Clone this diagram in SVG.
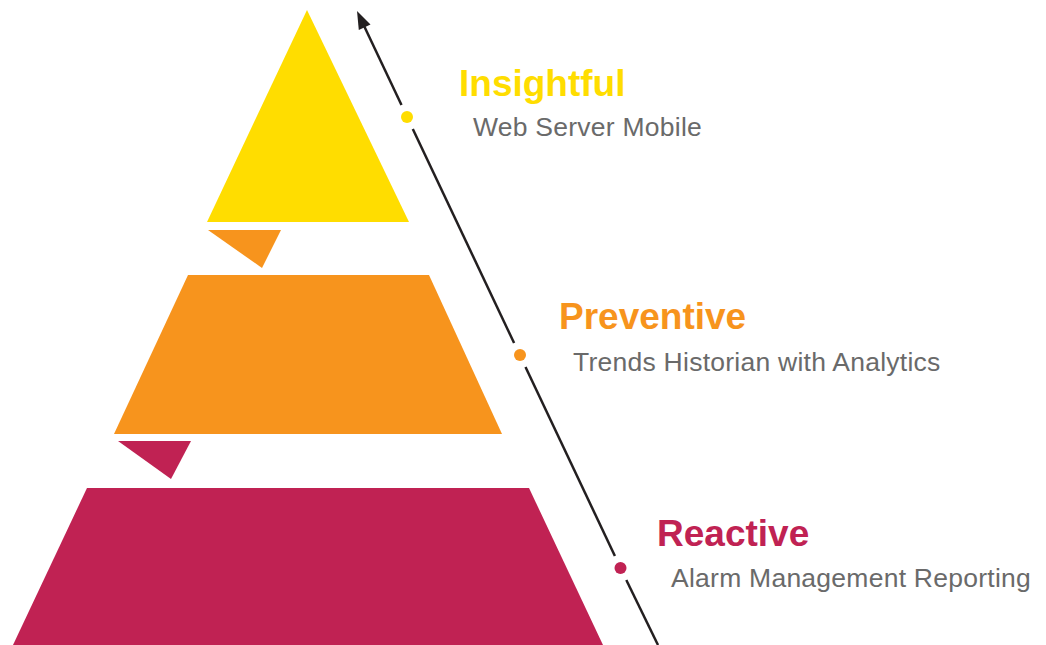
<svg xmlns="http://www.w3.org/2000/svg" width="1046" height="645" viewBox="0 0 1046 645">
<style>
.y{fill:#FFDD00}.o{fill:#F7941D}.c{fill:#C02253}
.ln{stroke:#231F20;stroke-width:2.5;fill:none}
.h{font-family:"Liberation Sans",Arial,sans-serif;font-weight:bold;font-size:37px}
.s{font-family:"Liberation Sans",Arial,sans-serif;font-size:26.5px;fill:#6A6A6A;letter-spacing:0.25px}
</style>
<rect width="1046" height="645" fill="#FFFFFF"/>
<g id="insightful">
<polygon class="y" points="307,10 409,222 207,222"/>
<circle class="y" cx="407" cy="117" r="6"/>
<text class="h y" x="459" y="96">Insightful</text>
<text class="s" x="473" y="136">Web Server Mobile</text>
</g>
<g id="preventive">
<polygon class="o" points="208,230 281,230 262,268"/>
<polygon class="o" points="188,275 429,275 502,434 114,434"/>
<circle class="o" cx="520" cy="355" r="6"/>
<text class="h o" x="559" y="329">Preventive</text>
<text class="s" x="573" y="371">Trends Historian with Analytics</text>
</g>
<g id="reactive">
<polygon class="c" points="118,441 191,441 171,479"/>
<polygon class="c" points="87,488 529,488 603,645 13,645"/>
<circle class="c" cx="620.5" cy="568" r="6"/>
<text class="h c" x="657" y="546">Reactive</text>
<text class="s" x="671" y="587">Alarm Management Reporting</text>
</g>
<g id="connectors">
<polygon fill="#231F20" points="357,11 370.5,24.5 358.8,30"/>
<line class="ln" x1="364.1" y1="26" x2="401.5" y2="105"/>
<line class="ln" x1="412.8" y1="129" x2="514.1" y2="343"/>
<line class="ln" x1="525.5" y1="367" x2="614.9" y2="556"/>
<line class="ln" x1="626.3" y1="580" x2="658" y2="645"/>
</g>
</svg>
